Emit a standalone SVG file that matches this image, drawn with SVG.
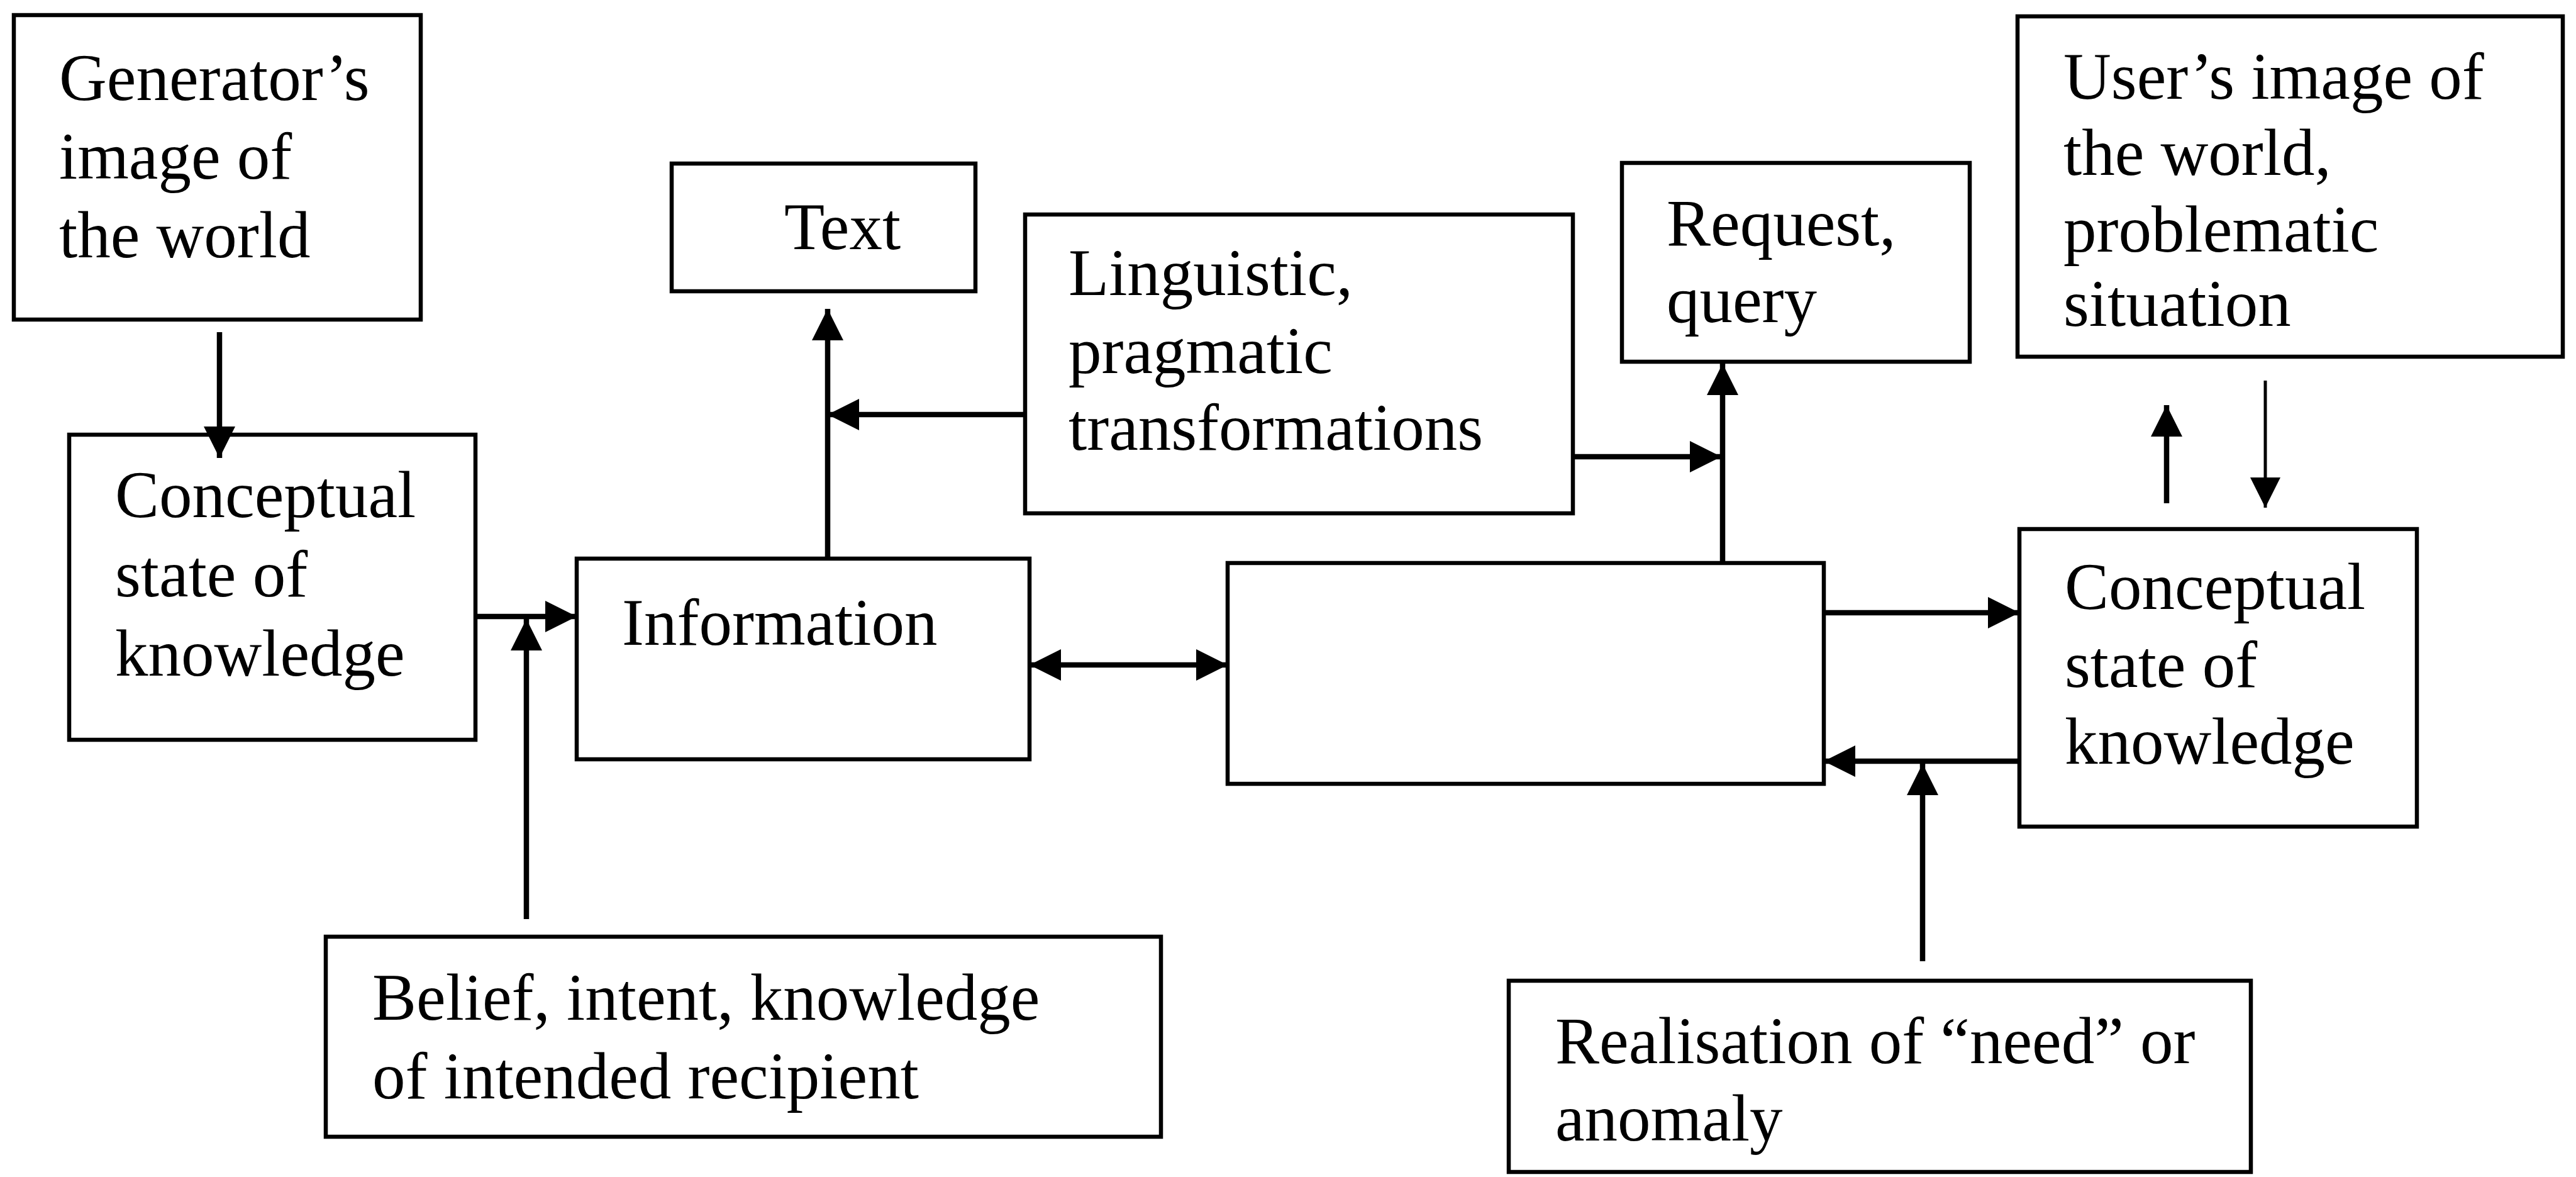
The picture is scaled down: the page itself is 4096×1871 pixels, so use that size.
<svg xmlns="http://www.w3.org/2000/svg" width="4096" height="1871" viewBox="0 0 4096 1871">
<style>
.box{fill:#fff;stroke:#000;stroke-width:6.5}
.lbl{font-family:"Liberation Serif","Times New Roman",serif;font-size:105px;fill:#000}
.ln{fill:none;stroke:#000;stroke-width:8.5}
.thin{fill:none;stroke:#000;stroke-width:5}
</style>
<defs>
<marker id="ah" viewBox="0 0 10 10" refX="10" refY="5" markerWidth="50" markerHeight="53" markerUnits="userSpaceOnUse" orient="auto-start-reverse">
<path d="M0,0 L10,5 L0,10 Z" fill="#000"/>
</marker>
<marker id="ahs" viewBox="0 0 10 10" refX="10" refY="5" markerWidth="48" markerHeight="48" markerUnits="userSpaceOnUse" orient="auto">
<path d="M0,0 L10,5 L0,10 Z" fill="#000"/>
</marker>
</defs>
<rect width="4096" height="1871" fill="#fff"/>
<g id="generator">
<rect class="box" x="22" y="24" width="647" height="484"/>
<text class="lbl" x="94" y="159">Generator’s</text>
<text class="lbl" x="94" y="284">image of</text>
<text class="lbl" x="94" y="409">the world</text>
</g>
<g id="concept-left">
<rect class="box" x="110" y="691" width="646" height="485"/>
<text class="lbl" x="183" y="822">Conceptual</text>
<text class="lbl" x="183" y="948">state of</text>
<text class="lbl" x="183" y="1074">knowledge</text>
</g>
<g id="text-node">
<rect class="box" x="1068" y="260" width="483" height="203"/>
<text class="lbl" x="1247" y="396">Text</text>
</g>
<g id="linguistic">
<rect class="box" x="1630" y="341" width="871" height="475"/>
<text class="lbl" x="1699" y="469">Linguistic,</text>
<text class="lbl" x="1699" y="593">pragmatic</text>
<text class="lbl" x="1699" y="715">transformations</text>
</g>
<g id="request">
<rect class="box" x="2579" y="259" width="553" height="316"/>
<text class="lbl" x="2650" y="390">Request,</text>
<text class="lbl" x="2650" y="512">query</text>
</g>
<g id="user-image">
<rect class="box" x="3208" y="26" width="867" height="541"/>
<text class="lbl" x="3281" y="157">User’s image of</text>
<text class="lbl" x="3281" y="278">the world,</text>
<text class="lbl" x="3281" y="400">problematic</text>
<text class="lbl" x="3281" y="518">situation</text>
</g>
<g id="information">
<rect class="box" x="917" y="888" width="720" height="319"/>
<text class="lbl" x="989" y="1025">Information</text>
</g>
<g id="center">
<rect class="box" x="1952" y="895" width="948" height="351"/>
</g>
<g id="concept-right">
<rect class="box" x="3211" y="841" width="632" height="473"/>
<text class="lbl" x="3283" y="968">Conceptual</text>
<text class="lbl" x="3283" y="1092">state of</text>
<text class="lbl" x="3283" y="1214">knowledge</text>
</g>
<g id="belief">
<rect class="box" x="518" y="1489" width="1328" height="318"/>
<text class="lbl" x="592" y="1621">Belief, intent, knowledge</text>
<text class="lbl" x="592" y="1746">of intended recipient</text>
</g>
<g id="realisation">
<rect class="box" x="2399" y="1559" width="1180" height="304"/>
<text class="lbl" x="2473" y="1690">Realisation of “need” or</text>
<text class="lbl" x="2473" y="1813">anomaly</text>
</g>
<g id="connectors">
<line class="ln" x1="349" y1="528" x2="349" y2="728" marker-end="url(#ah)"/>
<line class="ln" x1="756" y1="980" x2="917" y2="980" marker-end="url(#ah)"/>
<line class="ln" x1="837" y1="1461" x2="837" y2="984" marker-end="url(#ah)"/>
<line class="ln" x1="1316" y1="888" x2="1316" y2="491" marker-end="url(#ah)"/>
<line class="ln" x1="1633" y1="659" x2="1316" y2="659" marker-end="url(#ah)"/>
<line class="ln" x1="1637" y1="1057" x2="1952" y2="1057" marker-start="url(#ah)" marker-end="url(#ah)"/>
<line class="ln" x1="2502" y1="726" x2="2737" y2="726" marker-end="url(#ah)"/>
<line class="ln" x1="2739" y1="895" x2="2739" y2="578" marker-end="url(#ah)"/>
<line class="ln" x1="2900" y1="974" x2="3211" y2="974" marker-end="url(#ah)"/>
<line class="ln" x1="3211" y1="1210" x2="2900" y2="1210" marker-end="url(#ah)"/>
<line class="ln" x1="3057" y1="1528" x2="3057" y2="1214" marker-end="url(#ah)"/>
<line class="ln" x1="3445" y1="800" x2="3445" y2="644" marker-end="url(#ah)"/>
<line class="thin" x1="3602" y1="605" x2="3602" y2="807" marker-end="url(#ahs)"/>
</g>
</svg>
